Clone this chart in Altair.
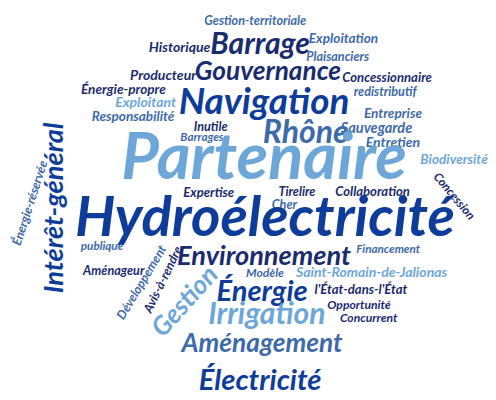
import altair as alt
import pandas as pd

words = ["Gestion-territoriale", "Historique", "Barrage", "Exploitation", "Plaisanciers",
         "Producteur", "Gouvernance", "Concessionnaire", "Énergie-propre", "Exploitant",
         "Navigation", "redistributif", "Responsabilité", "Entreprise", "Inutile",
         "Rhône", "Sauvegarde", "Barrages", "Entretien", "Partenaire", "Biodiversité",
         "Énergie-réservée", "Intérêt-général", "Expertise", "Tirelire", "Collaboration",
         "Concession", "Cher", "Hydroélectricité", "publique", "Environnement",
         "Financement", "Aménageur", "Modèle", "Saint-Romain-de-Jalionas", "Développement",
         "Avis-à-rendre", "Énergie", "l'État-dans-l'État", "Opportunité", "Gestion",
         "Irrigation", "Concurrent", "Aménagement", "Électricité"]
xs = [263, 185, 268, 354, 348, 168, 276, 399, 127, 150, 272, 397, 137, 405, 217,
      315, 388, 208, 405, 272, 468, 31, 57, 215, 306, 384, 468, 293, 273, 105, 272,
      400, 117, 273, 383, 146, 168, 270, 372, 370, 191, 275, 380, 270, 268]
ys = [15, 43, 40, 34, 53, 72, 68, 74, 87, 100, 100, 89, 114, 111, 125,
      131, 126, 135, 141, 158, 159, 203, 208, 193, 192, 192, 196, 205, 220, 247, 259,
      250, 273, 275, 275, 285, 282, 295, 293, 308, 305, 319, 322, 349, 387]
sizes = [13, 14.5, 31, 14, 13, 14.5, 27, 13.5, 14, 14.5, 38, 13, 14, 14, 13,
         33, 15, 12, 14.5, 67, 14, 13, 28, 13.5, 13, 13.5, 12.5, 13, 58, 12, 28,
         12, 13, 12.5, 14.5, 13, 13, 30, 13.5, 12.5, 27, 31, 12.5, 27, 30]
angles = [0, 0, 0, 0, 0, 0, 0, 0, 0, 0, 0, 0, 0, 0, 0,
          0, 0, 0, 0, 0, 0, 288, 270, 0, 0, 0, 50, 0, 0, 0, 0,
          0, 0, 0, 0, 301, 296, 0, 0, 0, 312, 0, 0, 0, 0]
tones = ["steel", "navy", "navy", "steel", "steel", "navy", "navy", "navy", "navy", "light",
         "blue", "steel", "steel", "steel", "navy", "steel", "steel", "steel", "steel", "light",
         "light", "steel", "blue", "navy", "navy", "navy", "navy", "steel", "blue", "steel",
         "navy", "steel", "navy", "steel", "light", "steel", "navy", "blue", "navy", "navy",
         "light", "light", "navy", "steel", "blue"]
palette = {"navy": "#1a2c6e", "blue": "#0d3c9a", "steel": "#3d6aa8", "light": "#6da7d7"}

df = pd.DataFrame({"word": words, "x": xs, "y": ys, "size": sizes, "angle": angles,
                   "color": [palette[t] for t in tones]})

chart = alt.Chart(df).mark_text(
    font="Lato", fontStyle="italic", fontWeight="bold", align="center", baseline="middle"
).encode(
    x=alt.X("x:Q", scale=alt.Scale(domain=[8, 488]), axis=None),
    y=alt.Y("y:Q", scale=alt.Scale(domain=[392, 8]), axis=None),
    text="word:N",
    size=alt.Size("size:Q", scale=None),
    angle=alt.Angle("angle:Q", scale=None),
    color=alt.Color("color:N", scale=None),
).properties(width=480, height=384, padding=0).configure_view(stroke=None)

chart.save("out.html", embed_options={"renderer": "svg", "actions": False})
